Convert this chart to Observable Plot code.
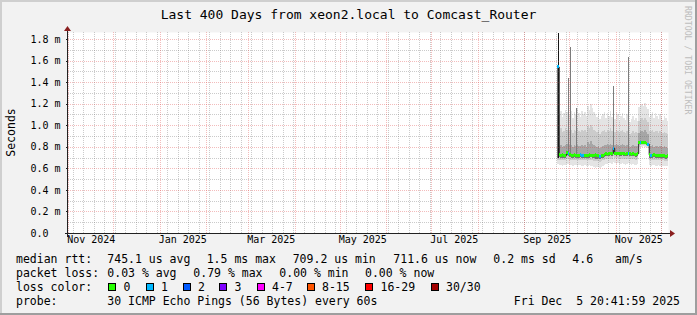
<!DOCTYPE html>
<html><head><meta charset="utf-8">
<script src="https://cdn.jsdelivr.net/npm/d3@7"></script>
<script src="https://cdn.jsdelivr.net/npm/@observablehq/plot@0.6"></script>
<style>
html,body{margin:0;padding:0;background:#f2f2f2;}
#chart{width:697px;height:315px;position:relative;overflow:hidden;}
svg text{white-space:pre;}
</style></head><body><div id="chart"></div>
<script>
// ---------------- data ----------------
const title = "Last 400 Days from xeon2.local to Comcast_Router";
const yAxisTitle = "Seconds";
const watermark = "RRDTOOL / TOBI OETIKER";
const periodEnd = "2025-12-05T20:41:59Z";
const periodDays = 400;
const firstSampleDay = "2025-09-23";

const yTickValues = [0, 0.2, 0.4, 0.6, 0.8, 1.0, 1.2, 1.4, 1.6, 1.8];
const yTickLabels = ["0.0", "0.2 m", "0.4 m", "0.6 m", "0.8 m", "1.0 m", "1.2 m", "1.4 m", "1.6 m", "1.8 m"];
const xTickMonths = ["2024-11", "2025-01", "2025-03", "2025-05", "2025-07", "2025-09", "2025-11"];
const xTickLabels = ["Nov 2024", "Jan 2025", "Mar 2025", "May 2025", "Jul 2025", "Sep 2025", "Nov 2025"];

// one sample per day, from firstSampleDay (ms)
const median = [
1.545,0.73,0.725,0.73,0.72,0.725,0.755,0.74,0.73,0.725,
0.72,0.73,0.725,0.72,0.725,0.73,0.725,0.72,0.725,0.72,
0.725,0.73,0.725,0.72,0.725,0.73,0.725,0.72,0.71,0.72,
0.725,0.73,0.74,0.735,0.74,0.745,0.74,0.79,0.745,0.74,
0.745,0.74,0.74,0.745,0.74,0.735,0.74,0.745,0.74,0.735,
0.74,0.735,0.73,0.74,0.84,0.845,0.84,0.845,0.84,0.835,
0.83,0.73,0.725,0.725,0.73,0.725,0.72,0.725,0.725,0.72,
0.725,0.72,0.715,0.72];
const lossCount = [
1,0,0,0,0,0,0,1,0,0,
0,0,0,0,0,1,1,1,0,0,
0,0,0,0,0,0,0,0,1,0,
0,0,0,0,0,0,0,1,0,0,
0,0,0,0,0,0,0,1,0,0,
0,0,0,0,0,1,0,0,0,0,
1,0,1,0,0,0,0,0,0,0,
0,0,0,0];
const smokeHi = [
1.12,1.10,1.13,1.08,1.11,1.14,1.12,1.09,1.10,1.13,
1.07,1.12,1.10,1.15,1.11,1.08,1.13,1.10,1.12,1.09,
1.18,1.14,1.20,1.16,1.12,1.10,1.08,1.11,1.06,1.09,
1.10,1.12,1.07,1.11,1.09,1.13,1.08,1.10,1.06,1.12,
1.10,1.04,1.09,1.11,1.07,1.05,1.10,1.08,1.03,1.06,
1.09,1.05,1.07,1.04,1.17,1.19,1.20,1.18,1.21,1.17,
1.15,1.08,1.10,1.12,1.07,1.11,1.09,1.06,1.10,1.08,
1.05,1.09,1.07,1.04];
const smokeP80 = [
0.96,0.95,0.97,0.94,0.95,0.97,0.96,0.94,0.95,0.96,
0.93,0.96,0.95,0.97,0.95,0.94,0.96,0.95,0.96,0.94,
0.99,0.97,1.00,0.98,0.96,0.95,0.94,0.95,0.92,0.94,
0.95,0.96,0.94,0.96,0.95,0.97,0.95,0.96,0.94,0.96,
0.95,0.93,0.95,0.96,0.94,0.93,0.95,0.94,0.92,0.93,
0.95,0.93,0.94,0.93,1.04,1.06,1.07,1.05,1.07,1.05,
1.03,0.95,0.95,0.96,0.94,0.95,0.95,0.93,0.95,0.94,
0.93,0.94,0.93,0.92];
const smokeP60 = [
0.82,0.81,0.82,0.80,0.81,0.82,0.83,0.81,0.82,0.82,
0.80,0.82,0.81,0.82,0.81,0.81,0.82,0.81,0.82,0.80,
0.84,0.83,0.85,0.83,0.82,0.81,0.80,0.81,0.79,0.80,
0.81,0.82,0.82,0.83,0.82,0.83,0.82,0.86,0.82,0.83,
0.82,0.81,0.82,0.83,0.82,0.81,0.82,0.82,0.80,0.81,
0.82,0.81,0.81,0.81,0.93,0.95,0.95,0.94,0.96,0.94,
0.92,0.81,0.81,0.82,0.80,0.81,0.81,0.80,0.81,0.81,
0.80,0.81,0.80,0.79];
const smokeP35 = [
0.70,0.705,0.70,0.70,0.695,0.70,0.72,0.715,0.705,0.70,
0.70,0.705,0.70,0.70,0.70,0.705,0.70,0.695,0.70,0.695,
0.70,0.70,0.705,0.70,0.695,0.69,0.69,0.695,0.685,0.695,
0.70,0.705,0.71,0.71,0.715,0.72,0.715,0.74,0.72,0.715,
0.72,0.715,0.715,0.72,0.715,0.71,0.715,0.72,0.715,0.71,
0.715,0.71,0.705,0.71,0.825,0.83,0.825,0.83,0.825,0.82,
0.815,0.70,0.70,0.70,0.705,0.70,0.695,0.70,0.70,0.695,
0.70,0.695,0.69,0.695];
const smokeP20 = [
0.68,0.68,0.68,0.675,0.675,0.68,0.69,0.69,0.68,0.68,
0.675,0.68,0.68,0.675,0.68,0.68,0.675,0.675,0.68,0.675,
0.675,0.68,0.68,0.675,0.67,0.665,0.665,0.67,0.66,0.67,
0.675,0.68,0.69,0.69,0.69,0.70,0.69,0.71,0.695,0.69,
0.695,0.69,0.69,0.695,0.69,0.685,0.69,0.695,0.69,0.685,
0.69,0.685,0.68,0.685,0.815,0.82,0.815,0.82,0.815,0.81,
0.805,0.68,0.675,0.68,0.68,0.675,0.675,0.68,0.675,0.675,
0.675,0.67,0.67,0.67];
const smokeLo = [
0.64,0.63,0.63,0.625,0.63,0.63,0.64,0.64,0.63,0.63,
0.625,0.63,0.63,0.625,0.63,0.63,0.625,0.625,0.63,0.62,
0.625,0.63,0.62,0.62,0.61,0.605,0.61,0.615,0.60,0.615,
0.62,0.63,0.64,0.64,0.645,0.65,0.64,0.66,0.645,0.64,
0.645,0.64,0.64,0.645,0.64,0.635,0.64,0.645,0.64,0.635,
0.64,0.635,0.63,0.64,0.80,0.805,0.80,0.805,0.80,0.80,
0.79,0.63,0.625,0.63,0.63,0.625,0.625,0.63,0.625,0.625,
0.625,0.62,0.62,0.62];

// single-ping outliers (max of the day)
const spikeDays = ["2025-09-23", "2025-09-30", "2025-10-01", "2025-10-05", "2025-10-30", "2025-11-09"];
const spikeTops = [1.86, 1.44, 1.73, 1.16, 1.365, 1.63];

const lossLabels = ["0", "1", "2", "3", "4-7", "8-15", "16-29", "30/30"];
const statsMedian = ["median rtt:", "745.1 us avg", "1.5 ms max", "709.2 us min", "711.6 us now", "0.2 ms sd", "4.6", "am/s"];
const statsLoss = ["packet loss:", "0.03 % avg", "0.79 % max", "0.00 % min", "0.00 % now"];
const lossColorTitle = "loss color:";
const probeRow = ["probe:", "30 ICMP Echo Pings (56 Bytes) every 60s"];
const timestamp = "Fri Dec  5 20:41:59 2025";

// ---------------- build ----------------
const lossPalette = ["#26ff00", "#00b8ff", "#0059ff", "#7e00ff", "#ff00ff", "#ff5500", "#ff0000", "#a10000"];
const W = 697, H = 315;
const end = new Date(periodEnd);
const start = d3.utcDay.offset(end, -periodDays);
const day0 = new Date(firstSampleDay + "T00:00:00Z");
const samples = median.map((m, i) => {
  const d = d3.utcDay.offset(day0, i);
  return {date: d, next: d3.utcDay.offset(d, 1), median: m, loss: lossCount[i],
    hi: smokeHi[i], p80: smokeP80[i], p60: smokeP60[i], p35: smokeP35[i], p20: smokeP20[i], lo: smokeLo[i]};
});
const byDay = new Map(samples.map(s => [+s.date, s]));
const spikes = spikeDays.map((s, i) => {
  const d = new Date(s + "T00:00:00Z");
  return {x: d3.utcHour.offset(d, 12), top: spikeTops[i], base: byDay.get(+d).p35, first: s === firstSampleDay};
});
const xTicks = xTickMonths.map((m, i) => ({date: d3.utcDay.offset(new Date(m + "-01T00:00:00Z"), 15), label: xTickLabels[i]}));
const weekly = d3.utcMonday.range(start, end);
const monthly = d3.utcMonth.range(start, end);
const minorY = d3.range(1, 19, 2).map(k => k / 10);
const majorY = yTickValues.filter(v => v > 0);

const minorGrid = {stroke: "rgba(110,110,110,0.36)", strokeDasharray: "1,1", shapeRendering: "crispEdges"};
const majorGrid = {stroke: "rgba(222,70,70,0.36)", strokeDasharray: "1,1", shapeRendering: "crispEdges"};
const smokeOpts = {x1: "date", x2: "next", clip: true, shapeRendering: "crispEdges"};

const plot = Plot.plot({
  width: W, height: H,
  marginLeft: 68, marginRight: 29, marginTop: 32, marginBottom: 82,
  x: {type: "utc", domain: [start, end], axis: null},
  y: {domain: [0, 1.865], axis: null},
  color: {type: "identity"},
  style: {background: "transparent", fontFamily: "DejaVu Sans Mono", fontSize: "10px", color: "#000", overflow: "visible"},
  marks: [
    Plot.frame({fill: "#ffffff", stroke: "none"}),
    Plot.rect(samples, {...smokeOpts, y1: "lo", y2: "hi", fill: "#e4e4e4"}),
    Plot.rect(samples, {...smokeOpts, y1: "p20", y2: "p80", fill: "#cbcbcb"}),
    Plot.rect(samples, {...smokeOpts, y1: "p35", y2: "p60", fill: "#a6a6a6"}),
    Plot.rect(samples, {...smokeOpts, y1: "p35", y2: "median", fill: "#727272"}),
    Plot.ruleX(spikes, {x: "x", y1: "base", y2: "top", stroke: d => d.first ? "#161616" : "#7c7c7c", strokeWidth: 1, clip: true, shapeRendering: "crispEdges"}),
    Plot.ruleX(weekly, minorGrid),
    Plot.ruleY(minorY, minorGrid),
    Plot.ruleX(monthly, majorGrid),
    Plot.ruleY(majorY, majorGrid),
    Plot.line(samples, {x: "date", y: "median", curve: "step-after", stroke: "#1a1a1a", strokeWidth: 1, clip: true}),
    Plot.ruleY(samples, {x1: "date", x2: "next", y: "median", stroke: d => lossPalette[d.loss], strokeWidth: 3, clip: true, shapeRendering: "crispEdges"}),
    Plot.text(yTickValues, {y: d => d, text: (d, i) => yTickLabels[i], frameAnchor: "left", dx: -38, textAnchor: "start", fontSize: 10, fill: "#000"}),
    Plot.text(xTicks, {x: "date", text: "label", frameAnchor: "bottom", dy: 9.5, fontSize: 10, fill: "#000"})
  ]
});
document.getElementById("chart").appendChild(plot);

const svg = d3.select(plot);
const xs = plot.scale("x"), ys = plot.scale("y");
const X0 = Math.floor(xs.apply(start)) - 0.5;   // y-axis pixel column
const X1 = xs.apply(end);
const Y0 = Math.round(ys.apply(0)) + 0.5;      // x-axis pixel row
const YT = ys.apply(1.865);

// background and bevel
svg.insert("rect", ":first-child").attr("x", 0).attr("y", 0).attr("width", W).attr("height", H).attr("fill", "#f2f2f2");
const bevel = svg.append("g");
bevel.append("path").attr("d", `M0,0H${W}V2H2V${H}H0Z`).attr("fill", "#cfcfcf");
bevel.append("path").attr("d", `M${W},${H}H0V${H-2}H${W-2}V0H${W}Z`).attr("fill", "#9e9e9e");

// axes
const axisG = svg.append("g").attr("shape-rendering", "crispEdges");
axisG.append("line").attr("x1", X0 - 3).attr("x2", X1 + 2).attr("y1", Y0).attr("y2", Y0).attr("stroke", "#222");
axisG.append("line").attr("x1", X0).attr("x2", X0).attr("y1", Y0 + 3).attr("y2", YT - 1).attr("stroke", "#222");
majorY.forEach(v => { const y = Math.round(ys.apply(v)) + 0.5; axisG.append("line").attr("x1", X0 - 2).attr("x2", X0).attr("y1", y).attr("y2", y).attr("stroke", "#222"); });
svg.append("path").attr("d", `M${X1 + 2},${Y0 - 3.5}L${X1 + 7},${Y0}L${X1 + 2},${Y0 + 3.5}Z`).attr("fill", "#8a1f1f");
svg.append("path").attr("d", `M${X0 - 3.5},${YT - 1}L${X0},${YT - 6}L${X0 + 3.5},${YT - 1}Z`).attr("fill", "#8a1f1f");

// title, axis title, watermark
const mono = "DejaVu Sans Mono";
svg.append("text").attr("x", 348.5).attr("y", 18.5).attr("text-anchor", "middle")
  .attr("font-family", mono).attr("font-size", "13px").attr("fill", "#000").text(title);
svg.append("text").attr("transform", "translate(14.5,132.5) rotate(-90)").attr("text-anchor", "middle")
  .attr("font-family", mono).attr("font-size", "11.5px").attr("fill", "#000").text(yAxisTitle);
svg.append("text").attr("transform", "translate(684.5,6) rotate(90)").attr("text-anchor", "start")
  .attr("font-family", mono).attr("font-size", "8.2px").attr("fill", "#bdbdbd").text(watermark);

// legend
const lg = svg.append("g").attr("font-family", mono).attr("font-size", "11.5px").attr("fill", "#000");
const put = (t, x, y, anchor = "start") => lg.append("text").attr("x", x).attr("y", y).attr("text-anchor", anchor).text(t);
const row1X = [16, 107.3, 206.7, 292.7, 393.3, 493.3, 572.3, 615];
statsMedian.forEach((t, i) => put(t, row1X[i], 263));
const row2X = [16, 107.3, 193.3, 279.3, 365];
statsLoss.forEach((t, i) => put(t, row2X[i], 277));
put(lossColorTitle, 16, 291);
const swX = [108.5, 146, 183, 219.5, 257, 307, 365.5, 431];
lossLabels.forEach((t, i) => {
  lg.append("rect").attr("x", swX[i]).attr("y", 283.5).attr("width", 7).attr("height", 7)
    .attr("fill", lossPalette[i]).attr("stroke", "#000").attr("stroke-width", 1).attr("shape-rendering", "crispEdges");
  put(t, swX[i] + 15, 291);
});
put(probeRow[0], 16, 304.8);
put(probeRow[1], 107.3, 304.8);
put(timestamp, 680, 304.8, "end");
</script></body></html>
